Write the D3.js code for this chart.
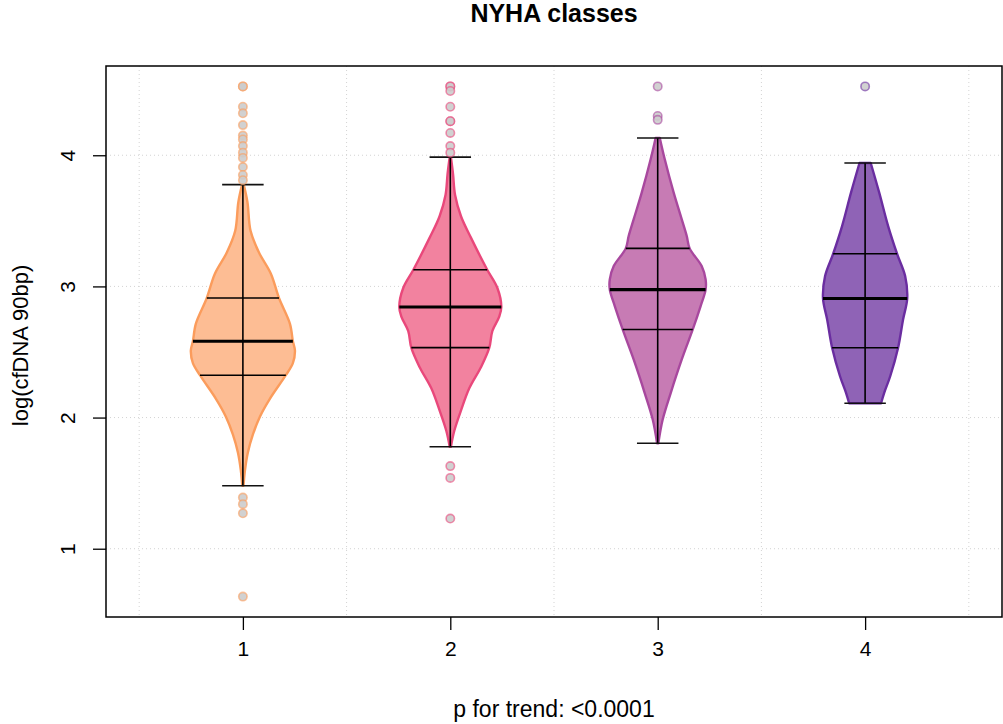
<!DOCTYPE html>
<html>
<head>
<meta charset="utf-8">
<script src="https://cdn.jsdelivr.net/npm/d3@7"></script>
<style>
  html, body { margin: 0; padding: 0; background: #fff; }
  svg { display: block; font-family: "Liberation Sans", Arial, Helvetica, sans-serif; }
</style>
</head>
<body>
<svg id="chart" width="1003" height="724"></svg>
<script>
// ---------------- data ----------------
const categories = [1, 2, 3, 4];
const categoryLabels = ["1", "2", "3", "4"];
const yTickValues = [1, 2, 3, 4];
const title = "NYHA classes";
const xLabel = "p for trend: <0.0001";
const yLabel = "log(cfDNA 90bp)";

const whiskerLow  = [1.480, 1.778, 1.804, 2.109];
const whiskerHigh = [3.776, 3.986, 4.132, 3.941];
const q1Values    = [2.323, 2.533, 2.672, 2.532];
const medianValues= [2.582, 2.843, 2.975, 2.908];
const q3Values    = [2.912, 3.127, 3.290, 3.249];

// density profiles: [value, half-width in category units]
const profile1 = [[3.776,0.004],[3.642,0.022],[3.424,0.037],[3.260,0.077],[3.097,0.135],[2.912,0.174],
  [2.715,0.227],[2.582,0.241],[2.511,0.251],[2.415,0.241],[2.323,0.207],[2.143,0.130],[2.007,0.082],
  [1.870,0.048],[1.734,0.024],[1.598,0.010],[1.480,0.003]];
const profile2 = [[3.986,0.003],[3.860,0.013],[3.697,0.023],[3.533,0.052],[3.370,0.100],[3.127,0.178],
  [2.988,0.227],[2.843,0.246],[2.770,0.236],[2.661,0.203],[2.533,0.188],[2.388,0.149],[2.225,0.092],
  [2.061,0.053],[1.898,0.019],[1.778,0.003]];
const profile3 = [[4.132,0.010],[3.969,0.034],[3.715,0.077],[3.511,0.116],[3.384,0.140],[3.290,0.154],
  [3.155,0.212],[3.053,0.231],[2.975,0.231],[2.850,0.207],[2.672,0.169],[2.443,0.116],[2.189,0.063],
  [1.985,0.024],[1.804,0.003]];
const profile4 = [[3.941,0.027],[3.715,0.068],[3.460,0.111],[3.249,0.154],[3.079,0.193],[2.908,0.203],
  [2.748,0.183],[2.532,0.159],[2.315,0.121],[2.189,0.092],[2.109,0.077]];

const outliers1 = [4.525, 4.525, 4.37, 4.32, 4.23, 4.15, 4.12, 4.07, 4.02, 3.98, 3.91, 3.85, 3.81, 1.39, 1.34, 1.27, 0.635];
const outliers2 = [4.525, 4.525, 4.49, 4.37, 4.26, 4.26, 4.17, 4.07, 4.02, 1.63, 1.54, 1.23];
const outliers3 = [4.525, 4.30, 4.27];
const outliers4 = [4.525];

const fillColors   = ["#FDBD94", "#F2829F", "#C77BB4", "#8F63B6"];
const strokeColors = ["#FB9C5C", "#E9487B", "#A8489E", "#6A2DA0"];

// ---------------- layout ----------------
const W = 1003, H = 724;
const plot = { left: 106, right: 1002, top: 66, bottom: 617 };

const profiles = [profile1, profile2, profile3, profile4];
const outliers = [outliers1, outliers2, outliers3, outliers4];

const allVals = [].concat(...outliers, whiskerLow, whiskerHigh);
const yMin = d3.min(allVals), yMax = d3.max(allVals);
const yPad = (yMax - yMin) * 0.04;
const xPad = (4.5 - 0.5) * 0.04;

const x = d3.scaleLinear().domain([0.5 - xPad, 4.5 + xPad]).range([plot.left, plot.right]);
const y = d3.scaleLinear().domain([yMin - yPad, yMax + yPad]).range([plot.bottom, plot.top]);

const svg = d3.select("#chart");

// clip
svg.append("defs").append("clipPath").attr("id", "clip")
  .append("rect").attr("x", plot.left).attr("y", plot.top)
  .attr("width", plot.right - plot.left).attr("height", plot.bottom - plot.top);

// grid
const grid = svg.append("g").attr("stroke", "#d3d3d3").attr("stroke-width", 1)
  .attr("stroke-dasharray", "1,3");
[0.5, 1.5, 2.5, 3.5, 4.5].forEach(v => {
  grid.append("line").attr("x1", x(v)).attr("x2", x(v)).attr("y1", plot.top).attr("y2", plot.bottom);
});
yTickValues.forEach(v => {
  grid.append("line").attr("x1", plot.left).attr("x2", plot.right).attr("y1", y(v)).attr("y2", y(v));
});

// violins
const g = svg.append("g").attr("clip-path", "url(#clip)");
categories.forEach((c, i) => {
  const prof = profiles[i];
  const area = d3.area()
    .y(d => y(d[0]))
    .x0(d => x(c - d[1]))
    .x1(d => x(c + d[1]))
    .curve(d3.curveCatmullRom.alpha(0.5));
  g.append("path").datum(prof).attr("d", area)
    .attr("fill", fillColors[i])
    .attr("stroke", strokeColors[i]).attr("stroke-width", 2.4)
    .attr("stroke-linejoin", "round");

  const halfW = d3.scaleLinear().domain(prof.map(d => d[0])).range(prof.map(d => d[1]));
  // quartile lines
  [[q1Values[i], 1.6], [q3Values[i], 1.6], [medianValues[i], 3.2]].forEach(([v, sw]) => {
    const hw = halfW(v);
    g.append("line").attr("x1", x(c - hw)).attr("x2", x(c + hw))
      .attr("y1", y(v)).attr("y2", y(v))
      .attr("stroke", "#000").attr("stroke-width", sw);
  });
  // whisker line
  g.append("line").attr("x1", x(c)).attr("x2", x(c))
    .attr("y1", y(whiskerLow[i])).attr("y2", y(whiskerHigh[i]))
    .attr("stroke", "#000").attr("stroke-width", 1.6);
  // caps
  [whiskerLow[i], whiskerHigh[i]].forEach(v => {
    g.append("line").attr("x1", x(c - 0.1)).attr("x2", x(c + 0.1))
      .attr("y1", y(v)).attr("y2", y(v))
      .attr("stroke", "#111").attr("stroke-width", 1.6);
  });
  // outliers
  outliers[i].forEach(v => {
    g.append("circle").attr("cx", x(c)).attr("cy", y(v)).attr("r", 4.2)
      .attr("fill", "#cccccc").attr("fill-opacity", 0.9)
      .attr("stroke", strokeColors[i]).attr("stroke-opacity", 0.6).attr("stroke-width", 1.6);
  });
});

// frame
svg.append("rect").attr("x", plot.left).attr("y", plot.top)
  .attr("width", plot.right - plot.left).attr("height", plot.bottom - plot.top)
  .attr("fill", "none").attr("stroke", "#000").attr("stroke-width", 1.5);

// x axis
const xAxis = svg.append("g").attr("transform", `translate(0,${plot.bottom})`)
  .call(d3.axisBottom(x).tickValues(categories).tickSize(13).tickFormat((d, i) => categoryLabels[i]));
xAxis.select(".domain").remove();
xAxis.selectAll(".tick line").attr("stroke", "#000").attr("stroke-width", 1.3);
xAxis.selectAll(".tick text").attr("font-size", 21).attr("fill", "#000")
  .attr("font-family", "Liberation Sans, Arial, sans-serif")
  .attr("y", 39).attr("dy", 0);

// y axis
const yAxis = svg.append("g").attr("transform", `translate(${plot.left},0)`)
  .call(d3.axisLeft(y).tickValues(yTickValues).tickSize(13).tickFormat(d3.format("d")));
yAxis.select(".domain").remove();
yAxis.selectAll(".tick line").attr("stroke", "#000").attr("stroke-width", 1.3);
yAxis.selectAll(".tick text").attr("font-size", 21).attr("fill", "#000")
  .attr("font-family", "Liberation Sans, Arial, sans-serif")
  .attr("x", null).attr("dy", null)
  .attr("text-anchor", "middle")
  .attr("transform", "translate(-31,0) rotate(-90)");

// title
svg.append("text").attr("x", (plot.left + plot.right) / 2).attr("y", 22)
  .attr("text-anchor", "middle").attr("font-size", 25).attr("font-weight", "bold")
  .text(title);

// x label
svg.append("text").attr("x", (plot.left + plot.right) / 2).attr("y", 717)
  .attr("text-anchor", "middle").attr("font-size", 23).text(xLabel);

// y label
svg.append("text").attr("transform", `translate(28,${(plot.top + plot.bottom) / 2 + 4}) rotate(-90)`)
  .attr("text-anchor", "middle").attr("font-size", 22).text(yLabel);
</script>
</body>
</html>
